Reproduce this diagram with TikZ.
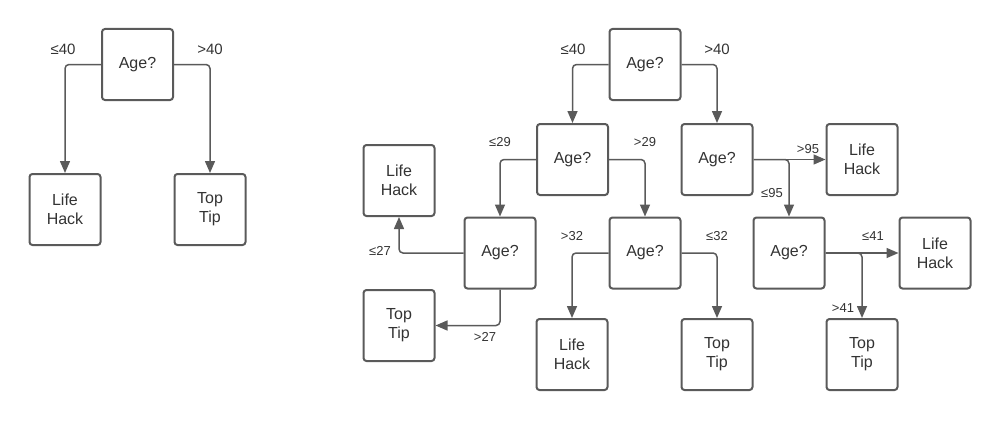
\documentclass[tikz,border=0pt]{standalone}
\usepackage{fontspec}
\setmainfont{Liberation Sans}
\usetikzlibrary{arrows.meta}
\definecolor{ln}{HTML}{5A5A5A}
\definecolor{tx}{HTML}{333333}
\begin{document}
\begin{tikzpicture}[x=1pt,y=-1pt,
 box/.style={draw=ln, line width=2pt, rounded corners=3pt, minimum width=71pt, minimum height=71pt, inner sep=0pt, align=center, font=\fontsize{16}{19}\selectfont, text=tx},
 conn/.style={draw=ln, line width=1.5pt, rounded corners=4pt, -{Triangle[length=12pt,width=10pt]}},
 lbl/.style={font=\fontsize{13}{15}\selectfont, text=tx, inner sep=0pt},
 lblb/.style={font=\fontsize{15}{17}\selectfont, text=tx, inner sep=0pt}]
\useasboundingbox (0,0) rectangle (1000,420);
% left tree
\node[box] (a0) at (137.5,64.5) {Age?};
\node[box] (a1) at (65,209.5) {Life\\Hack};
\node[box] (a2) at (210,209.5) {Top\\Tip};
\draw[conn] (a0.west) -| (a1.north);
\draw[conn] (a0.east) -| (a2.north);
\node[lblb] (la1) at (63,49) {≤40};
\node[lblb] (la2) at (210,49) {>40};
% right tree
\node[box] (r0) at (645,64.5) {Age?};
\node[box] (r1) at (572.5,159.5) {Age?};
\node[box] (r2) at (717,159.5) {Age?};
\node[box] (L2) at (500,253) {Age?};
\node[box] (M2) at (645,253) {Age?};
\node[box] (R2) at (789,253) {Age?};
\node[box] (LH1) at (399,180.5) {Life\\Hack};
\node[box] (TT1) at (399,325.5) {Top\\Tip};
\node[box] (LH2) at (572,354.5) {Life\\Hack};
\node[box] (TT2) at (717,354.5) {Top\\Tip};
\node[box] (LH3) at (862,159.5) {Life\\Hack};
\node[box] (LH4) at (935,253) {Life\\Hack};
\node[box] (TT3) at (862,354.5) {Top\\Tip};
\draw[conn] (r0.west) -| (r1.north);
\draw[conn] (r0.east) -| (r2.north);
\draw[conn] (r1.west) -| (L2.north);
\draw[conn] (r1.east) -| (M2.north);
\draw[conn] (L2.west) -| (LH1.south);
\draw[conn] (L2.south) |- (TT1.east);
\draw[conn] (M2.west) -| (LH2.north);
\draw[conn] (M2.east) -| (TT2.north);
\draw[conn] (r2.east) -- (LH3.west);
\draw[conn] (r2.east) -| (R2.north);
\draw[conn] (R2.east) -- (LH4.west);
\draw[conn] (R2.east) -| (TT3.north);
\node[lblb] (l1) at (573,49) {≤40};
\node[lblb] (l2) at (717,49) {>40};
\node[lbl] (l3) at (500,142) {≤29};
\node[lbl] (l4) at (645,142) {>29};
\node[lbl] (l5) at (380,251) {≤27};
\node[lbl] (l6) at (485,337) {>27};
\node[lbl] (l7) at (572,236) {>32};
\node[lbl] (l8) at (717,236) {≤32};
\node[lbl] (l9) at (808,149) {>95};
\node[lbl] (l10) at (772,193) {≤95};
\node[lbl] (l11) at (873,236) {≤41};
\node[lbl] (l12) at (843,308) {>41};
\end{tikzpicture}
\end{document}
